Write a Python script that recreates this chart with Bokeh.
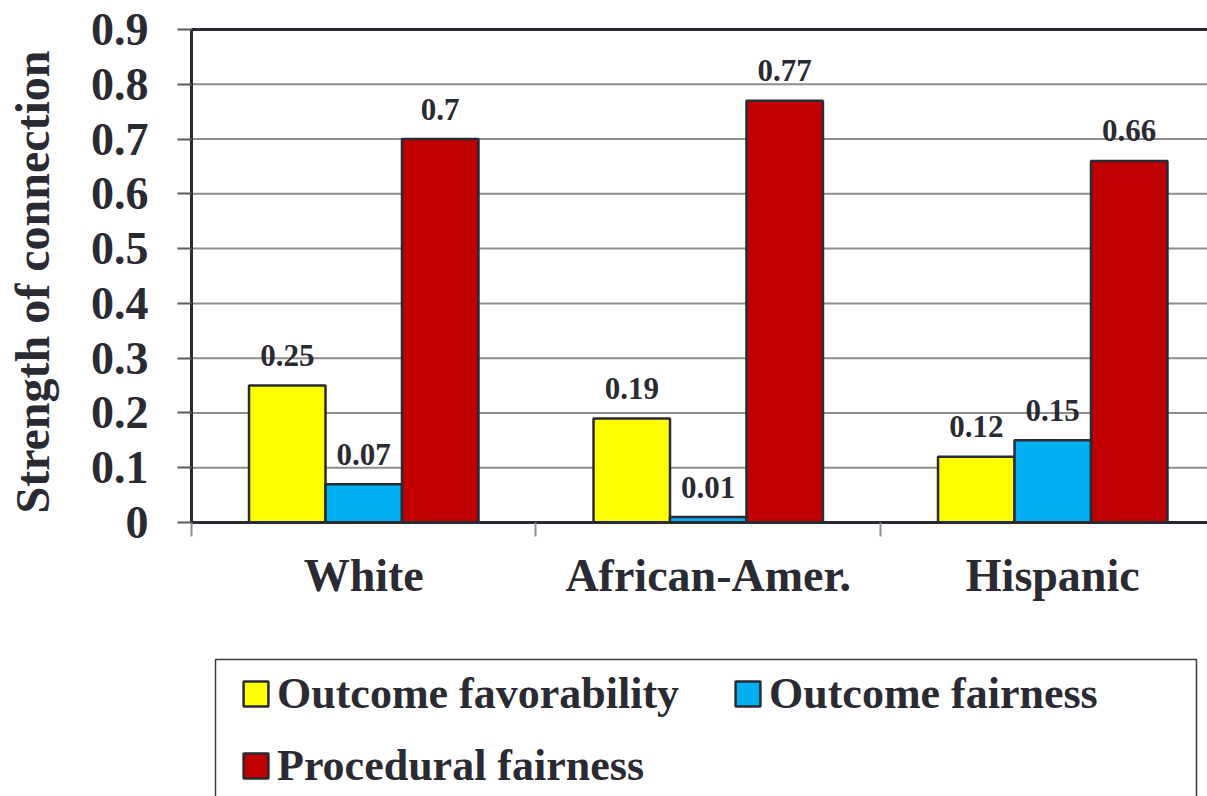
import math
from bokeh.plotting import figure
from bokeh.models import (Range1d, FixedTicker, Legend, LegendItem, Label,
                          BoxAnnotation, ColumnDataSource)
from bokeh.transform import dodge
from bokeh.core.properties import value
from bokeh.embed import file_html
from bokeh.resources import INLINE

# --- data -------------------------------------------------------------
groups = ["White", "African-Amer.", "Hispanic"]
series = ["Outcome favorability", "Outcome fairness", "Procedural fairness"]
outcome_favorability = [0.25, 0.19, 0.12]
outcome_fairness = [0.07, 0.01, 0.15]
procedural_fairness = [0.70, 0.77, 0.66]
y_ticks = [0, 0.1, 0.2, 0.3, 0.4, 0.5, 0.6, 0.7, 0.8, 0.9]
y_tick_labels = ["0", "0.1", "0.2", "0.3", "0.4", "0.5", "0.6", "0.7", "0.8", "0.9"]
y_title = "Strength of connection"

colors = ["#FFFF00", "#00B0F0", "#C00000"]
FONT = "Liberation Serif"
INK = "#2a2a33"
GRID = "#8e8e8e"

centers = [i + 0.5 for i in range(len(groups))]
cols = ["fav", "ofair", "pfair"]
values = [outcome_favorability, outcome_fairness, procedural_fairness]
data = {"center": centers}
for c, v in zip(cols, values):
    data[c] = v
    data[c + "_lbl"] = [f"{x:g}" for x in v]
source = ColumnDataSource(data)

# The frame fills the whole canvas; both axes are pinned at zero so the
# tick labels, title and legend all live inside it.
X_MIN, X_MAX = -0.5544, 2.9492
Y_MIN, Y_MAX = -0.5002, 0.9529
Y_TOP = y_ticks[-1]
p = figure(width=1207, height=796, output_backend="svg", toolbar_location=None,
           x_range=Range1d(X_MIN, X_MAX), y_range=Range1d(Y_MIN, Y_MAX),
           min_border_left=0, min_border_right=0, min_border_top=0,
           min_border_bottom=0)
p.outline_line_color = None
p.background_fill_color = "white"
p.border_fill_color = "white"
p.xgrid.grid_line_color = None
p.ygrid.grid_line_color = None

# horizontal rules at each tick, darker at the top
rule_colors = [GRID] * (len(y_ticks) - 1) + [INK]
rule_widths = [2] * (len(y_ticks) - 1) + [3]
p.segment(x0=0, x1=X_MAX, y0=y_ticks, y1=y_ticks,
          line_color=rule_colors, line_width=rule_widths)

# y axis
p.yaxis.fixed_location = 0
p.yaxis.bounds = (0, Y_TOP)
p.yaxis.ticker = FixedTicker(ticks=y_ticks)
p.yaxis.major_label_overrides = dict(zip(y_ticks, y_tick_labels))
p.yaxis.major_label_text_font = FONT
p.yaxis.major_label_text_font_style = "bold"
p.yaxis.major_label_text_font_size = "46px"
p.yaxis.major_label_text_color = INK
p.yaxis.major_label_standoff = 29
p.yaxis.major_tick_out = 14
p.yaxis.major_tick_in = 0
p.yaxis.major_tick_line_color = "#5a5a60"
p.yaxis.major_tick_line_width = 2
p.yaxis.minor_tick_line_color = None
p.yaxis.axis_line_color = INK
p.yaxis.axis_line_width = 3

p.add_layout(Label(x=31.5, y=281.5, x_units="canvas", y_units="canvas",
                   text=y_title, angle=math.pi / 2, text_align="center",
                   text_baseline="middle", text_font=FONT,
                   text_font_style="bold", text_font_size="48px",
                   text_color=INK))

# x axis: group names centred, separators as minor ticks
p.xaxis.fixed_location = 0
p.xaxis.bounds = (0, len(groups))
p.xaxis.ticker = FixedTicker(ticks=centers, minor_ticks=list(range(len(groups) + 1)))
p.xaxis.major_label_overrides = dict(zip(centers, groups))
p.xaxis.major_label_text_font = FONT
p.xaxis.major_label_text_font_style = "bold"
p.xaxis.major_label_text_font_size = "46px"
p.xaxis.major_label_text_color = INK
p.xaxis.major_label_standoff = 14
p.xaxis.major_tick_line_color = None
p.xaxis.major_tick_out = 0
p.xaxis.major_tick_in = 0
p.xaxis.minor_tick_out = 14
p.xaxis.minor_tick_in = 0
p.xaxis.minor_tick_line_color = GRID
p.xaxis.minor_tick_line_width = 2
p.xaxis.axis_line_color = INK
p.xaxis.axis_line_width = 3

# bars and value labels
bar_w = 0.222
offsets = [-bar_w, 0.0, bar_w]
renderers = []
for c, off, color in zip(cols, offsets, colors):
    r = p.vbar(x=dodge("center", off, range=p.x_range), top=c, width=bar_w,
               source=source, fill_color=color, line_color=INK, line_width=2.5)
    renderers.append(r)
    p.text(x=dodge("center", off, range=p.x_range), y=c, text=c + "_lbl",
           source=source, text_align="center", text_baseline="alphabetic",
           y_offset=-30, text_font=value(FONT), text_font_style="bold",
           text_font_size="31px", text_color=INK)

# legend under the chart
legend = Legend(items=[LegendItem(label=s, renderers=[r]) for s, r in zip(series, renderers)],
                location=(240, 5.5), orientation="horizontal", ncols=2,
                padding=10, spacing=21, margin=0,
                glyph_width=31, glyph_height=31, label_standoff=6,
                label_width=434, label_height=49,
                label_text_font=FONT, label_text_font_style="bold",
                label_text_font_size="44px", label_text_color=INK,
                border_line_color=None, background_fill_alpha=0)
p.add_layout(legend, "center")

p.add_layout(BoxAnnotation(left=215, right=1196, top=659, bottom=810,
                           left_units="canvas", right_units="canvas",
                           top_units="canvas", bottom_units="canvas",
                           fill_alpha=0, line_color="#3a3a44", line_width=1.5,
                           line_alpha=1))

open("out.html", "w").write(file_html(p, INLINE))
